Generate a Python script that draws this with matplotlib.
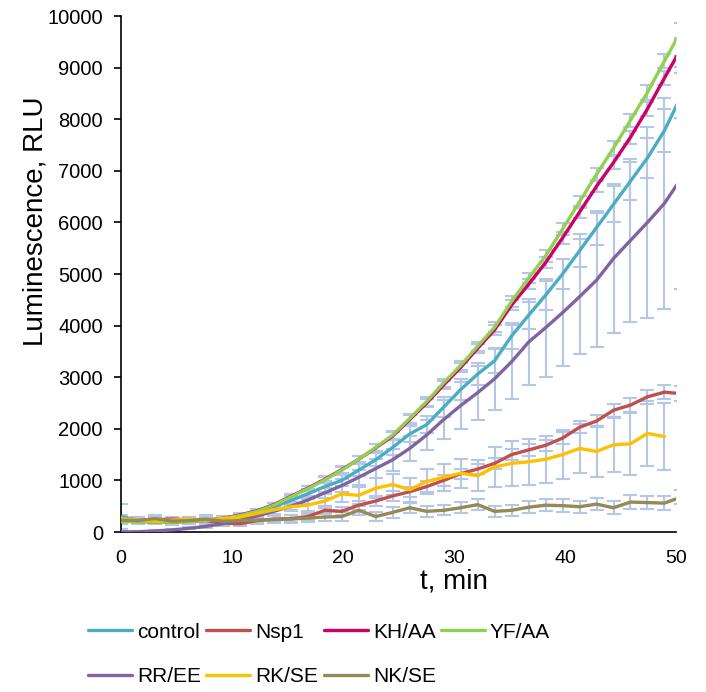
#!/usr/bin/env python3
"""Luminescence kinetics: mean curves with error bars for seven constructs."""

import matplotlib
matplotlib.use("Agg")
import matplotlib.pyplot as plt
import numpy as np

plt.rcParams["font.family"] = ["Liberation Sans", "DejaVu Sans"]

# Time points, min
t_min = [0.0, 1.53, 3.06, 4.59, 6.12, 7.65, 9.18, 10.71, 12.24, 13.77,
         15.3, 16.83, 18.36, 19.89, 21.42, 22.95, 24.48, 26.01, 27.54, 29.07,
         30.6, 32.13, 33.66, 35.19, 36.72, 38.25, 39.78, 41.31, 42.84, 44.37,
         45.9, 47.43, 48.96, 50.49]

# Mean luminescence, RLU
control = [300, 230, 220, 210, 210, 230, 260, 310, 390, 490,
           610, 740, 880, 1000, 1200, 1400, 1640, 1900, 2080, 2420,
           2760, 3060, 3320, 3800, 4200, 4590, 5000, 5450, 5900, 6350,
           6800, 7250, 7780, 8460]
nsp1 = [230, 220, 240, 250, 240, 220, 170, 160, 220, 250,
        260, 300, 420, 400, 520, 600, 700, 780, 880, 1000,
        1130, 1220, 1330, 1500, 1590, 1680, 1820, 2030, 2150, 2360,
        2460, 2620, 2710, 2680]
kh_aa = [210, 205, 195, 195, 205, 225, 265, 330, 410, 530,
         690, 850, 1020, 1210, 1410, 1630, 1860, 2180, 2500, 2850,
         3190, 3560, 3920, 4400, 4800, 5220, 5700, 6200, 6700, 7160,
         7650, 8200, 8800, 9380]
yf_aa = [200, 200, 190, 190, 200, 220, 260, 320, 400, 520,
         680, 840, 1010, 1200, 1410, 1640, 1880, 2200, 2530, 2890,
         3230, 3600, 3970, 4470, 4920, 5350, 5870, 6400, 6930, 7440,
         7980, 8520, 9130, 9720]
rr_ee = [0, 5, 20, 40, 70, 110, 160, 230, 310, 400,
         500, 620, 760, 900, 1060, 1230, 1400, 1620, 1880, 2180,
         2450, 2700, 2970, 3300, 3680, 3960, 4250, 4560, 4880, 5300,
         5650, 6000, 6370, 6860]
rk_se = [260, 230, 210, 230, 250, 240, 260, 290, 360, 430,
         490, 520, 600, 740, 710, 850, 920, 820, 980, 1060,
         1140, 1090, 1260, 1330, 1360, 1410, 1500, 1620, 1560, 1690,
         1710, 1910, 1850, np.nan]
nk_se = [230, 220, 260, 210, 220, 250, 210, 220, 230, 240,
         250, 270, 290, 300, 420, 300, 380, 470, 400, 420,
         470, 530, 400, 420, 480, 520, 510, 490, 540, 470,
         580, 570, 560, 680]

# Standard deviations
control_err = [250, 60, 50, 50, 50, 50, 50, 60, 60, 70,
               80, 90, 100, 110, 120, 130, 150, 160, 170, 190,
               200, 210, 230, 250, 260, 280, 300, 320, 330, 350,
               370, 390, 420, 440]
nsp1_err = [60, 50, 50, 50, 50, 50, 50, 50, 50, 60,
            60, 70, 80, 80, 90, 90, 100, 100, 100, 100,
            100, 100, 110, 110, 110, 110, 120, 120, 120, 130,
            130, 140, 140, 150]
kh_aa_err = [40, 30, 30, 30, 30, 30, 30, 30, 40, 40,
             50, 50, 60, 60, 60, 70, 70, 80, 80, 80,
             90, 90, 100, 100, 100, 110, 110, 120, 120, 130,
             130, 140, 140, 150]
yf_aa_err = [40, 30, 30, 30, 30, 30, 30, 30, 40, 40,
             50, 50, 60, 60, 60, 70, 70, 80, 80, 80,
             90, 90, 100, 100, 100, 110, 110, 120, 120, 130,
             130, 140, 140, 150]
rr_ee_err = [20, 20, 20, 20, 20, 30, 30, 40, 50, 60,
             70, 80, 100, 120, 150, 180, 210, 250, 300, 370,
             450, 520, 600, 720, 830, 950, 1040, 1120, 1300, 1450,
             1580, 1850, 2050, 2150]
rk_se_err = [60, 50, 50, 50, 50, 50, 50, 60, 60, 80,
             90, 110, 130, 150, 170, 190, 210, 230, 250, 260,
             280, 300, 380, 430, 440, 460, 470, 480, 490, 520,
             600, 630, 650, np.nan]
nk_se_err = [80, 70, 70, 70, 70, 70, 70, 70, 70, 70,
             80, 80, 80, 90, 90, 90, 100, 100, 100, 100,
             110, 110, 110, 110, 120, 120, 120, 120, 120, 130,
             130, 130, 130, 140]

labels = ["control", "Nsp1", "KH/AA", "YF/AA", "RR/EE", "RK/SE", "NK/SE"]
colors = ["#4BACC6", "#C0504D", "#CC0066", "#92D050", "#8064A2", "#FFC000", "#948A54"]
series = [control, nsp1, kh_aa, yf_aa, rr_ee, rk_se, nk_se]
errors = [control_err, nsp1_err, kh_aa_err, yf_aa_err, rr_ee_err, rk_se_err, nk_se_err]

W, H = 706, 692
fig = plt.figure(figsize=(W / 100, H / 100), dpi=100)
ax = fig.add_axes([121 / W, 1 - 532 / H, 555 / W, 516 / H])

for y, err in zip(series, errors):
    ax.errorbar(t_min, y, yerr=err, fmt="none", ecolor="#B4C7E7",
                elinewidth=1.5, capsize=5, capthick=1.5, zorder=1)

handles = []
for y, col, lab in zip(series, colors, labels):
    (ln,) = ax.plot(t_min, y, color=col, linewidth=2.4, label=lab,
                    solid_joinstyle="round", solid_capstyle="round", zorder=3)
    handles.append(ln)

ax.set_xlim(0, 50)
ax.set_ylim(0, 10000)
ax.set_xticks(np.arange(0, 51, 10))
ax.set_yticks(np.arange(0, 10001, 1000))
ax.tick_params(axis="x", length=0, labelsize=14, pad=13)
ax.tick_params(axis="y", direction="out", length=5, width=1.2, labelsize=14.5, pad=8)

for side in ("top", "right"):
    ax.spines[side].set_visible(False)
for side in ("left", "bottom"):
    ax.spines[side].set_linewidth(1.2)

# axis titles sit off-centre, as in the original
ax.set_xlabel("t, min", fontsize=20)
ax.xaxis.set_label_coords(0.6, -0.071)
ax.set_ylabel("Luminescence, RLU", fontsize=20)
ax.yaxis.set_label_coords(-0.131, 0.603)

# legend: 4 equal-width columns, 2 rows, filled row by row
col_x = [88, 206, 324, 441]
row_y = [632, 677]
for i, (h, lab) in enumerate(zip(handles, labels)):
    r, c = divmod(i, 4)
    fig.legend([h], [lab], loc="center left",
               bbox_to_anchor=(col_x[c] / W, 1 - row_y[r] / H),
               frameon=False, fontsize=15, handlelength=2.1, handletextpad=0.25,
               borderpad=0, borderaxespad=0)

fig.savefig("out.png", dpi=100)
